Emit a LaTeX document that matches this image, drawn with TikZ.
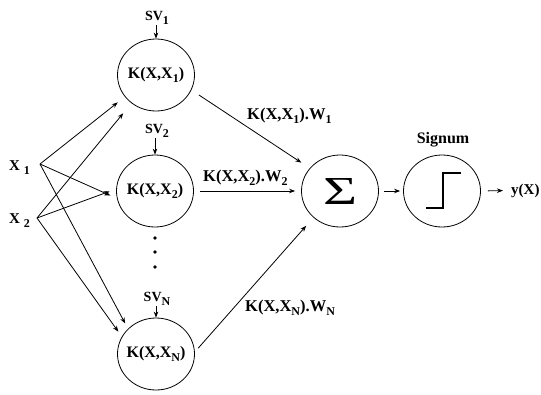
\documentclass[tikz,border=0pt]{standalone}
\usepackage{fontspec}
\setmainfont{Liberation Serif}
\usetikzlibrary{arrows.meta,shapes.geometric}
\newcommand\dn[1]{\raisebox{-0.3em}{\fontsize{12}{12}\selectfont #1}}
\begin{document}
\begin{tikzpicture}[x=1pt,y=-1pt,
  txt/.style={font=\fontsize{16}{18}\selectfont\bfseries, inner sep=0pt},
  wtxt/.style={font=\fontsize{16.5}{18}\selectfont\bfseries, inner sep=0pt},
  svtxt/.style={font=\fontsize{14}{16}\selectfont\bfseries, inner sep=1pt},
  unit/.style={draw, ellipse, minimum width=77pt, minimum height=72pt, inner sep=0pt, line width=0.8pt},
  arr/.style={-{Stealth[length=6pt,width=4.5pt]}, line width=0.8pt}]
\useasboundingbox (0,0) rectangle (541,394);
% kernel units
\node[unit, label={[txt]center:{K(X,X\dn{1})}}] (k1) at (156,75) {};
\node[unit, label={[txt]center:{K(X,X\dn{2})}}] (k2) at (155,191) {};
\node[unit, label={[txt]center:{K(X,X\dn{N})}}] (kn) at (156,354) {};
\node[unit, label={center:{\resizebox{34pt}{26pt}{Σ}}}] (sum) at (340,191) {};
\node[unit] (sgn) at (442,191) {};
\draw[line width=1.4pt] (426,208) -- (443,208) -- (443,173) -- (461,173);
% dots
\fill (155,238) circle (1.8pt);
\fill (155,252) circle (1.8pt);
\fill (155,267) circle (1.8pt);
% SV labels
\node[svtxt, anchor=base] (sv1) at (157,20) {SV\dn{1}};
\node[svtxt, anchor=base] (sv2) at (157,133) {SV\dn{2}};
\node[svtxt, anchor=base] (svn) at (157,301) {SV\dn{N}};
\draw[arr] (k1.north |- sv1.south) -- (k1.north);
\draw[arr] (k2.north |- sv2.south) -- (k2.north);
\draw[arr] (kn.north |- svn.south) -- (kn.north);
% inputs
\node[txt, font=\fontsize{15}{17}\selectfont\bfseries, anchor=base west] (x1l) at (9,170) {X \dn{1}};
\node[txt, font=\fontsize{15}{17}\selectfont\bfseries, anchor=base west] (x2l) at (9,223) {X \dn{2}};
\coordinate (x1) at (40,164);
\coordinate (x2) at (37,218);
\draw[arr, shorten >=9pt] (x1) -- (k1.215);
\draw[arr, shorten >=7pt] (x1) -- (k2.191);
\draw[arr, shorten >=6pt] (x1) -- (kn.138);
\draw[arr, shorten >=13pt] (x2) -- (k1.229);
\draw[arr, shorten >=7pt] (x2) -- (k2.177);
\draw[arr, shorten >=6pt] (x2) -- (kn.153);
% outputs
\draw[arr, shorten <=9pt, shorten >=10pt] (k1.337) -- (sum.143);
\draw[arr, shorten <=6.5pt, shorten >=6pt] (k2.east) -- (sum.west);
\draw[arr, shorten <=5pt, shorten >=11pt] (kn.3) -- (sum.225);
\draw[arr, shorten <=5pt, shorten >=3pt] (sum.east) -- (sgn.west);
\node[txt, font=\fontsize{15}{17}\selectfont\bfseries, anchor=base west] (y) at (511,194) {y(X)};
\draw[arr, shorten <=7pt, shorten >=8pt] (sgn.east) -- (y.west);
% weight labels
\node[wtxt, anchor=base west] (w1) at (247,119) {K(X,X\dn{1}).W\dn{1}};
\node[wtxt, anchor=base west] (w2) at (203,181) {K(X,X\dn{2}).W\dn{2}};
\node[wtxt, anchor=base west] (wn) at (245,311) {K(X,X\dn{N}).W\dn{N}};
\node[txt, anchor=base] (sg) at (443,143) {Signum};
\end{tikzpicture}
\end{document}
